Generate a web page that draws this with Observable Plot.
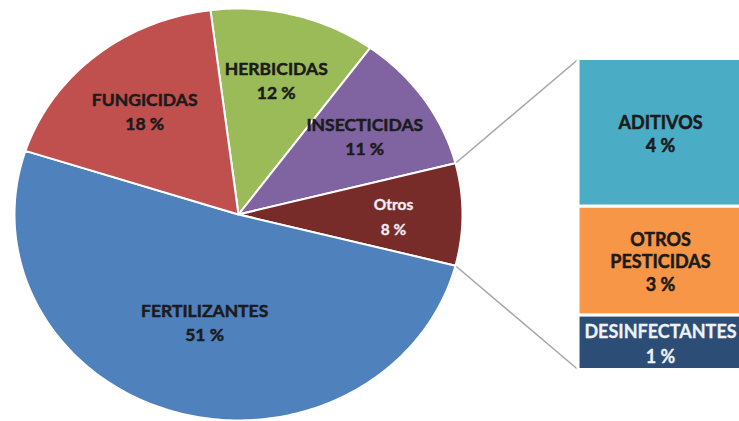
<!DOCTYPE html>
<html><head><meta charset="utf-8">
<script src="https://cdn.jsdelivr.net/npm/d3@7"></script>
<script src="https://cdn.jsdelivr.net/npm/@observablehq/plot@0.6"></script>
<style>body{margin:0;background:#fff} svg{display:block}</style>
</head><body><div id="chart"></div>
<script>
// ---- data ----
const pieNames = ["HERBICIDAS", "INSECTICIDAS", "Otros", "FERTILIZANTES", "FUNGICIDAS"];
const pieValues = [12, 11, 8, 51, 18];
const pieColors = ["#9bbb59", "#8064a2", "#772c2a", "#4f81bd", "#c0504d"];
const barNames = ["ADITIVOS", "OTROS\nPESTICIDAS", "DESINFECTANTES"];
const barValues = [3.8, 2.8, 1.4];
const barColors = ["#4bacc6", "#f79646", "#2c4d75"];
const splitName = "Otros";

// ---- layout ----
const W = 739, H = 421;
const startDeg = -7.2;          // first slice angle, clockwise from 12 o'clock
const barX1 = 1.518, barX2 = 2.25, barHalf = 0.755;
// labels sit closer to the centre for bigger slices (best-fit style)
const labelRadius = v => 0.72 - 0.0035 * v;

const total = d3.sum(pieValues);
let acc = 0;
const slices = pieNames.map((name, i) => {
  const a0 = (startDeg + acc / total * 360) * Math.PI / 180;
  acc += pieValues[i];
  const a1 = (startDeg + acc / total * 360) * Math.PI / 180;
  return {name, value: pieValues[i], a0, a1};
});
const piePts = [];
for (const s of slices) {
  piePts.push({name: s.name, x: 0, y: 0});
  const n = Math.max(8, Math.ceil((s.a1 - s.a0) * 180 / Math.PI));
  for (let k = 0; k <= n; k++) {
    const a = s.a0 + (s.a1 - s.a0) * k / n;
    piePts.push({name: s.name, x: Math.sin(a), y: Math.cos(a)});
  }
}
const pieLabels = slices.map(s => {
  const m = (s.a0 + s.a1) / 2, r = labelRadius(s.value);
  return {name: s.name, text: `${s.name}\n${s.value} %`, x: r * Math.sin(m), y: r * Math.cos(m)};
});

const barTotal = d3.sum(barValues);
let bacc = 0;
const barRows = barNames.map((name, i) => {
  const y1 = barHalf - bacc / barTotal * 2 * barHalf;
  bacc += barValues[i];
  const y2 = barHalf - bacc / barTotal * 2 * barHalf;
  return {name, value: barValues[i], x1: barX1, x2: barX2, y1, y2,
          xm: (barX1 + barX2) / 2, ym: (y1 + y2) / 2,
          text: `${name}\n${Math.round(barValues[i])} %`};
});

const split = slices.find(s => s.name === splitName);
const links = [
  {x1: Math.sin(split.a0), y1: Math.cos(split.a0), x2: barX1, y2: barHalf},
  {x1: Math.sin(split.a1), y1: Math.cos(split.a1), x2: barX1, y2: -barHalf}
];

const dark = "#1b1b1b";
const chart = Plot.plot({
  width: W, height: H, margin: 0,
  style: {fontFamily: "Lato, 'Open Sans', sans-serif", background: "white"},
  x: {domain: [-1.0625, 2.2366], axis: null},
  y: {domain: [-1.005, 1.039], axis: null},
  color: {domain: [...pieNames, ...barNames], range: [...pieColors, ...barColors]},
  marks: [
    Plot.link(links, {x1: "x1", y1: "y1", x2: "x2", y2: "y2", stroke: "#a6a6a6", strokeWidth: 1.5}),
    ...slices.map(s => Plot.line(piePts.filter(p => p.name === s.name),
      {x: "x", y: "y", fill: "name", stroke: "white", strokeWidth: 2, curve: "linear-closed"})),
    Plot.rect(barRows, {x1: "x1", x2: "x2", y1: "y1", y2: "y2", fill: "name", stroke: "white", strokeWidth: 3}),
    Plot.text(pieLabels.filter(d => d.name !== splitName), {x: "x", y: "y", text: "text",
      fill: dark, stroke: dark, strokeWidth: 0.5, fontSize: 17.5, fontWeight: "bold", lineHeight: 1.38}),
    Plot.text(pieLabels.filter(d => d.name === splitName), {x: "x", y: "y", text: "text",
      fill: "#f4eef6", stroke: "#f4eef6", strokeWidth: 0.3, fontSize: 15.5, fontWeight: "bold", lineHeight: 1.6}),
    Plot.text(barRows.filter(d => d.name !== "DESINFECTANTES"), {x: "xm", y: "ym", text: "text",
      fill: dark, stroke: dark, strokeWidth: 0.5, fontSize: 18, fontWeight: "bold", lineHeight: 1.27}),
    Plot.text(barRows.filter(d => d.name === "DESINFECTANTES"), {x: "xm", y: "ym", text: "text",
      fill: "#eef2f7", stroke: "#eef2f7", strokeWidth: 0.3, fontSize: 18, fontWeight: "bold", lineHeight: 1.35})
  ]
});
document.getElementById("chart").append(chart);
</script>
</body></html>
